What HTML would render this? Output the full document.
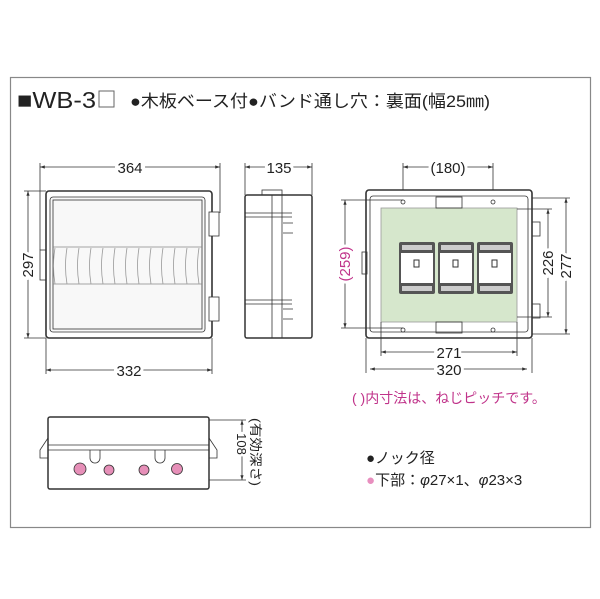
<!DOCTYPE html>
<html><head><meta charset="utf-8"><style>
body{margin:0;background:#fff;width:600px;height:599px;overflow:hidden}
svg{display:block}
text{font-family:"Liberation Sans","Noto Sans CJK JP",sans-serif;fill:#222}
</style></head><body>
<svg width="600" height="599" viewBox="0 0 600 599" xmlns="http://www.w3.org/2000/svg">
<defs>
<marker id="a" markerWidth="6" markerHeight="6" refX="6" refY="3" orient="auto-start-reverse"><path d="M0,1 L6,3 L0,5z" fill="#333"/></marker>
</defs>
<rect x="10.5" y="77.5" width="580" height="450" fill="none" stroke="#888" stroke-width="1.2"/>
<text x="17" y="108" font-size="23" textLength="79" lengthAdjust="spacingAndGlyphs">■WB-3</text>
<rect x="99" y="91" width="15" height="16" fill="none" stroke="#666"/>
<text x="130" y="107" font-size="17" textLength="360" lengthAdjust="spacingAndGlyphs">●木板ベース付●バンド通し穴：裏面(幅25㎜)</text>

<g stroke="#333" fill="none" stroke-width="0.8">
<line x1="40" y1="167" x2="220" y2="167" marker-start="url(#a)" marker-end="url(#a)"/>
<line x1="40" y1="163" x2="40" y2="250"/><line x1="220" y1="163" x2="220" y2="213"/>
<line x1="28" y1="191" x2="28" y2="338" marker-start="url(#a)" marker-end="url(#a)"/>
<line x1="24" y1="191" x2="46" y2="191"/><line x1="24" y1="338" x2="46" y2="338"/>
<line x1="46" y1="370" x2="212" y2="370" marker-start="url(#a)" marker-end="url(#a)"/>
<line x1="46" y1="338" x2="46" y2="374"/><line x1="212" y1="338" x2="212" y2="374"/>
<rect x="46" y="191" width="166" height="147" rx="3" stroke-width="1.6" fill="#fff"/>
<rect x="50" y="197" width="155" height="135" rx="3" fill="#f8f8f8"/>
<rect x="53" y="200" width="149" height="129"/>
<rect x="40" y="250" width="6" height="30"/>
<rect x="209" y="212" width="10" height="24" fill="#fff"/>
<rect x="209" y="297" width="10" height="24" fill="#fff"/>
<path d="M53 247 h149 M53 284 h149" stroke="#888"/>
<g stroke="#999">
<path d="M55 248 q-3 18 0 36 M67 248 q-3 18 0 36 M79 248 q-3 18 0 36 M91 248 q-3 18 0 36 M103 248 q-3 18 0 36 M115 248 q-3 18 0 36 M127 248 q-3 18 0 36 M139 248 q-3 18 0 36 M151 248 q-3 18 0 36 M163 248 q-3 18 0 36 M175 248 q-3 18 0 36 M187 248 q-3 18 0 36 M199 248 q-3 18 0 36"/>
</g>
<line x1="245" y1="167" x2="312" y2="167" marker-start="url(#a)" marker-end="url(#a)"/>
<line x1="245" y1="163" x2="245" y2="195"/><line x1="312" y1="163" x2="312" y2="195"/>
<rect x="245" y="195" width="67" height="143" rx="2" stroke-width="1.5" fill="#fff"/>
<line x1="272" y1="195" x2="272" y2="338"/><line x1="282" y1="195" x2="282" y2="338"/>
<rect x="262" y="190" width="20" height="5"/>
<path d="M245 213 h47 M245 217 h47 M283 223 h10 M283 233 h10 M245 300 h47 M245 304 h47 M283 309 h10 M283 319 h10"/>
<line x1="403" y1="167" x2="493" y2="167" marker-start="url(#a)" marker-end="url(#a)"/>
<line x1="403" y1="163" x2="403" y2="200"/><line x1="493" y1="163" x2="493" y2="200"/>
<rect x="366" y="190" width="166" height="148" rx="3" stroke-width="1.6" fill="#fff"/>
<rect x="370" y="196" width="158" height="136" rx="3"/>
<rect x="381" y="208" width="136" height="114" fill="#d6e7cc" stroke="#999"/>
<rect x="362" y="252" width="5" height="22"/>
<rect x="532" y="222" width="8" height="14"/><rect x="532" y="304" width="8" height="14"/>
<rect x="436" y="197" width="26" height="11"/><rect x="436" y="322" width="26" height="11"/>
<circle cx="403" cy="202" r="2"/><circle cx="493" cy="202" r="2"/>
<circle cx="403" cy="330" r="2"/><circle cx="493" cy="330" r="2"/>
<line x1="345" y1="200" x2="345" y2="328" marker-start="url(#a)" marker-end="url(#a)"/>
<line x1="341" y1="200" x2="403" y2="200"/><line x1="341" y1="328" x2="403" y2="328"/>
<line x1="548" y1="209" x2="548" y2="317" marker-start="url(#a)" marker-end="url(#a)"/>
<line x1="517" y1="209" x2="552" y2="209"/><line x1="517" y1="317" x2="552" y2="317"/>
<line x1="566" y1="198" x2="566" y2="334" marker-start="url(#a)" marker-end="url(#a)"/>
<line x1="532" y1="198" x2="570" y2="198"/><line x1="532" y1="334" x2="570" y2="334"/>
<line x1="381" y1="352" x2="517" y2="352" marker-start="url(#a)" marker-end="url(#a)"/>
<line x1="381" y1="322" x2="381" y2="356"/><line x1="517" y1="322" x2="517" y2="356"/>
<line x1="370" y1="369" x2="527" y2="369" marker-start="url(#a)" marker-end="url(#a)"/>
<line x1="366" y1="338" x2="366" y2="373"/><line x1="532" y1="338" x2="532" y2="373"/>
<rect x="48" y="417" width="161" height="72" rx="2" stroke-width="1.5" fill="#fff"/>
<line x1="48" y1="445" x2="209" y2="445"/><line x1="48" y1="450" x2="209" y2="450"/>
<path d="M48 438 l-8 12 v8 h8 M209 438 l8 12 v8 h-8"/>
<path d="M90 450 v8 a5 5 0 0 0 10 0 v-8 M155 450 v8 a5 5 0 0 0 10 0 v-8"/>
<line x1="242" y1="420" x2="242" y2="480" marker-start="url(#a)" marker-end="url(#a)"/>
<line x1="209" y1="420" x2="246" y2="420"/><line x1="209" y1="480" x2="246" y2="480"/>
</g>
<g fill="#555"><rect x="399" y="242" width="36" height="52" rx="2"/><rect x="438" y="242" width="36" height="52" rx="2"/><rect x="477" y="242" width="36" height="52" rx="2"/></g>
<g fill="#fff"><rect x="401" y="253" width="32" height="30"/><rect x="440" y="253" width="32" height="30"/><rect x="479" y="253" width="32" height="30"/></g>
<g fill="#ccc"><rect x="402" y="245" width="30" height="5"/><rect x="441" y="245" width="30" height="5"/><rect x="480" y="245" width="30" height="5"/><rect x="402" y="286" width="30" height="5"/><rect x="441" y="286" width="30" height="5"/><rect x="480" y="286" width="30" height="5"/></g>
<g fill="none" stroke="#333"><rect x="414" y="260" width="5" height="7"/><rect x="453" y="260" width="5" height="7"/><rect x="492" y="260" width="5" height="7"/></g>
<g fill="#e68fb8" stroke="#333" stroke-width="0.8"><circle cx="80" cy="469" r="6"/><circle cx="109" cy="470" r="5"/><circle cx="144" cy="470" r="5"/><circle cx="177" cy="469" r="5.5"/></g>
<g font-size="15">
<text x="130" y="173" text-anchor="middle" stroke="#fff" stroke-width="6" paint-order="stroke">364</text>
<text x="279" y="173" text-anchor="middle" stroke="#fff" stroke-width="6" paint-order="stroke">135</text>
<text x="129" y="376" text-anchor="middle" stroke="#fff" stroke-width="6" paint-order="stroke">332</text>
<text transform="translate(33 265) rotate(-90)" text-anchor="middle" stroke="#fff" stroke-width="6" paint-order="stroke">297</text>
<text x="448" y="173" text-anchor="middle" stroke="#fff" stroke-width="6" paint-order="stroke">(180)</text>
<text x="449" y="358" text-anchor="middle" stroke="#fff" stroke-width="6" paint-order="stroke">271</text>
<text x="449" y="375" text-anchor="middle" stroke="#fff" stroke-width="6" paint-order="stroke">320</text>
<text transform="translate(350 264) rotate(-90)" text-anchor="middle" stroke="#fff" stroke-width="6" paint-order="stroke" style="fill:#c0338a">(259)</text>
<text transform="translate(553 263) rotate(-90)" text-anchor="middle" stroke="#fff" stroke-width="6" paint-order="stroke">226</text>
<text transform="translate(571 266) rotate(-90)" text-anchor="middle" stroke="#fff" stroke-width="6" paint-order="stroke">277</text>
<text transform="translate(237 444) rotate(90)" font-size="13" text-anchor="middle" stroke="#fff" stroke-width="5" paint-order="stroke">108</text>
<text transform="translate(251 418) rotate(90)" font-size="13" textLength="68" lengthAdjust="spacingAndGlyphs">(有効深さ)</text>
</g>
<text x="352" y="403" font-size="14" style="fill:#c0338a">( )内寸法は、ねじピッチです。</text>
<text x="366" y="463" font-size="15">●ノック径</text>
<text x="366" y="485" font-size="15"><tspan style="fill:#e88fbf">●</tspan>下部：<tspan font-style="italic">φ</tspan>27×1、<tspan font-style="italic">φ</tspan>23×3</text>
</svg>
</body></html>
